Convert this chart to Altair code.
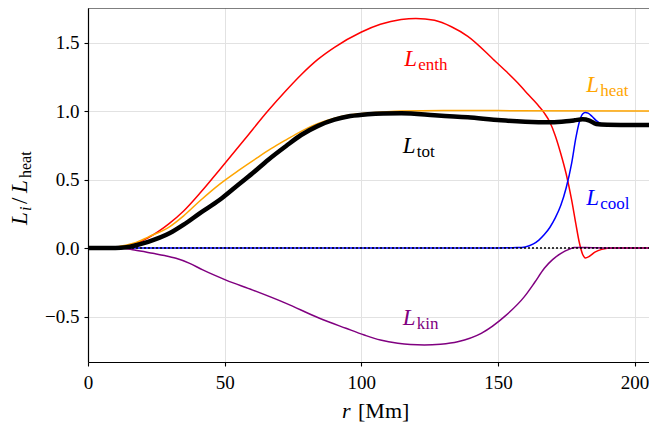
import altair as alt
import pandas as pd

# ---------------- data ----------------
r_enth = [0, 8, 12, 17.6, 22, 29.8, 35, 41.4, 48.1, 57.2, 65.8, 72.5, 78, 84, 90.2, 99.9, 107, 114.6,
          120, 126.8, 133, 139, 148.7, 153, 157.3, 160, 163, 165, 167, 169, 171, 173, 175, 177,
          178.5, 179.8, 181, 182, 183.5, 185.5, 188, 192, 208]
v_enth = [0, 0.0, 0.006, 0.034, 0.075, 0.18, 0.27, 0.41, 0.57, 0.79, 1.0, 1.15, 1.265, 1.375, 1.465,
          1.575, 1.633, 1.668, 1.676, 1.662, 1.615, 1.545, 1.37, 1.29, 1.205, 1.145, 1.08, 1.035,
          0.985, 0.92, 0.82, 0.69, 0.54, 0.35, 0.18, 0.04, -0.045, -0.072, -0.06, -0.03, -0.01,
          0.0, 0.0]

r_heat = [0, 8, 11.5, 17.6, 22, 29.8, 35, 41, 48.1, 55, 62, 67, 72.5, 78, 84, 90.2, 96, 102.4, 108,
          114.6, 130, 150, 208]
v_heat = [0, 0.0, 0.012, 0.04, 0.08, 0.155, 0.235, 0.345, 0.465, 0.565, 0.66, 0.725, 0.79, 0.852,
          0.908, 0.948, 0.972, 0.985, 0.993, 1.0, 1.003, 1.003, 1.0]

r_tot = [0, 10, 14, 17.6, 22, 29.8, 35, 41, 48.1, 54, 60.3, 66, 72.5, 78, 84, 90.2, 96, 102.4, 108,
         114.6, 126.8, 139, 151.2, 160, 169.5, 175, 178, 181, 183.5, 186, 190, 200, 208]
v_tot = [0, 0, 0.005, 0.02, 0.045, 0.107, 0.17, 0.255, 0.35, 0.445, 0.547, 0.645, 0.745, 0.825,
         0.89, 0.937, 0.963, 0.977, 0.982, 0.983, 0.97, 0.954, 0.932, 0.922, 0.918, 0.925, 0.932,
         0.94, 0.93, 0.905, 0.9, 0.898, 0.898]

r_cool = [0, 150, 157, 160, 163, 165, 167, 169, 171, 173, 175, 177, 178.5, 179.8, 181, 182, 183,
          184.5, 186, 188, 190, 200, 208]
v_cool = [0, 0, 0.003, 0.008, 0.03, 0.058, 0.098, 0.15, 0.22, 0.31, 0.44, 0.62, 0.8, 0.92, 0.978,
          0.99, 0.985, 0.96, 0.93, 0.905, 0.898, 0.898, 0.898]

r_kin = [0, 11.5, 17, 23.7, 28, 32.2, 37, 42, 50.5, 60.3, 72.5, 84.7, 94.4, 101.1, 107, 113.4, 118,
         123.1, 129, 135.3, 143.9, 152.4, 159.7, 163.5, 167, 170, 173.1, 176, 178, 182, 190, 208]
v_kin = [0, 0, -0.015, -0.039, -0.055, -0.075, -0.11, -0.16, -0.234, -0.307, -0.404, -0.513, -0.586,
         -0.635, -0.672, -0.696, -0.705, -0.708, -0.702, -0.684, -0.623, -0.501, -0.355, -0.25,
         -0.148, -0.085, -0.039, -0.01, 0.003, 0.004, 0.0, 0.0]

r_zero = [0, 208]
v_zero = [0, 0]

ann_sub = ["enth", "heat", "tot", "cool", "kin"]
ann_r = [115.7, 182.3, 115.2, 182.3, 115.2]
ann_v = [1.328, 1.139, 0.693, 0.314, -0.562]
ann_color = ["#ff0000", "#ffa500", "#000000", "#0000ff", "#800080"]

x_ticks = [0, 50, 100, 150, 200]
y_ticks = [-0.5, 0.0, 0.5, 1.0, 1.5]

# ---------------- build ----------------
FONT = "Liberation Serif"
W, H = 561, 354

frames = []
for name, rr, vv in [("enth", r_enth, v_enth), ("heat", r_heat, v_heat), ("tot", r_tot, v_tot),
                     ("cool", r_cool, v_cool), ("kin", r_kin, v_kin), ("zero", r_zero, v_zero)]:
    frames.append(pd.DataFrame({"series": name, "r": rr, "v": vv}))
df = pd.concat(frames, ignore_index=True)

xscale = alt.Scale(domain=[0, 205.3], nice=False, zero=False)
yscale = alt.Scale(domain=[-0.832, 1.752], nice=False, zero=False)

common_axis = dict(labelFont=FONT, labelFontSize=19, labelColor="black", tickColor="black",
                   tickSize=4, domainColor="black", domainWidth=1.2, tickWidth=1.1,
                   grid=True, gridColor="#e2e2e2", gridWidth=1, title=None, labelFlush=False)

xaxis = alt.Axis(values=x_ticks, format="d", labelPadding=7, **common_axis)
yaxis = alt.Axis(values=y_ticks, format=".1f", labelPadding=5, **common_axis)

base = alt.Chart(df).encode(
    x=alt.X("r:Q", scale=xscale, axis=xaxis),
    y=alt.Y("v:Q", scale=yscale, axis=yaxis),
    order="r:Q",
)


def line(name, color, width, dash=None):
    kw = dict(color=color, strokeWidth=width, clip=True, interpolate="monotone")
    if dash:
        kw["strokeDash"] = dash
    return base.transform_filter(alt.datum.series == name).mark_line(**kw)


layers = [
    line("enth", "#ff0000", 1.5),
    line("heat", "#ffa500", 1.5),
    line("cool", "#0000ff", 1.5),
    line("kin", "#800080", 1.5),
    line("zero", "black", 1.3, [2, 2]),
    line("tot", "black", 4.5),
]

ann = pd.DataFrame({"sub": ann_sub, "r": ann_r, "v": ann_v, "c": ann_color})
ann_base = alt.Chart(ann).encode(
    x=alt.X("r:Q", scale=xscale),
    y=alt.Y("v:Q", scale=yscale),
    color=alt.Color("c:N", scale=None, legend=None),
)
layers.append(ann_base.mark_text(font=FONT, fontSize=23, fontStyle="italic", align="left",
                                 baseline="alphabetic").encode(text=alt.value("L")))
layers.append(ann_base.mark_text(font=FONT, fontSize=17, align="left", baseline="alphabetic",
                                 dx=14, dy=4).encode(text="sub:N"))

# top spine
one = alt.Data(values=[{}])
layers.append(alt.Chart(one).mark_rule(color="black", strokeWidth=1.2).encode(
    x=alt.value(0), x2=alt.value(W), y=alt.value(0)))


def txt(s, x, y, size, italic=False, dx=0, dy=0, angle=0):
    kw = dict(font=FONT, fontSize=size, align="left", baseline="alphabetic", color="black",
              dx=dx, dy=dy)
    if italic:
        kw["fontStyle"] = "italic"
    if angle:
        kw["angle"] = angle
    return alt.Chart(one).mark_text(**kw).encode(x=alt.value(x), y=alt.value(y), text=alt.value(s))


# x title: r [Mm]
layers.append(txt("r", 254, 410, 22, italic=True))
layers.append(txt("[Mm]", 254, 410, 22, dx=16))

# y title: L_i / L_heat (rotated)
YX, YY = -61, 217
layers.append(txt("L", YX, YY, 23, italic=True, angle=270))
layers.append(txt("i", YX, YY, 16, italic=True, dx=14, dy=4, angle=270))
layers.append(txt("/", YX, YY, 23, dx=21, angle=270))
layers.append(txt("L", YX, YY, 23, italic=True, dx=32, angle=270))
layers.append(txt("heat", YX, YY, 16, dx=47, dy=4, angle=270))

chart = alt.layer(*layers).properties(
    width=W, height=H,
    autosize=alt.AutoSizeParams(type="none"),
    padding={"left": 80, "top": 0, "right": 0, "bottom": 66},
).configure_view(stroke=None)

chart.save("out.html", embed_options={"renderer": "svg", "actions": False})
